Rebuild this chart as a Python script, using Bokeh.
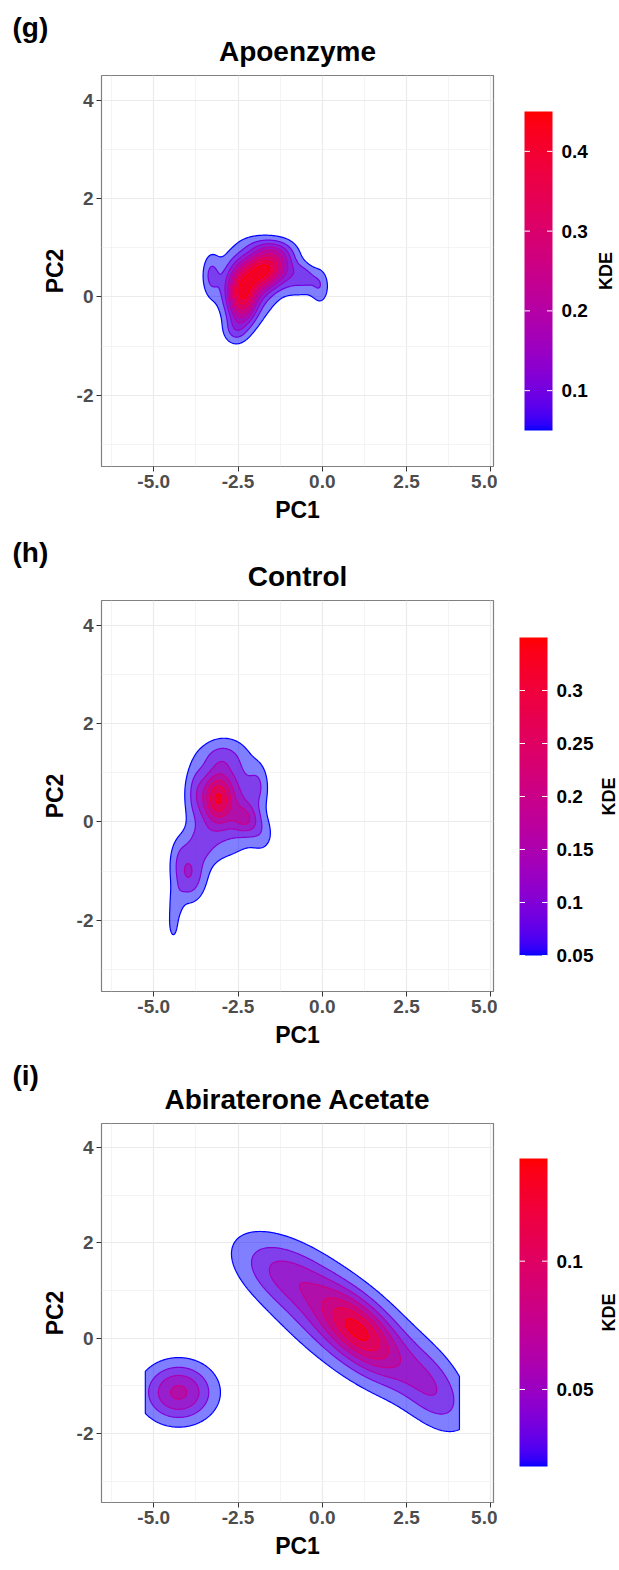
import numpy as np
from bokeh.plotting import figure
from bokeh.layouts import column, row
from bokeh.models import (LinearColorMapper, FixedTicker, Range1d, CustomJSTickFormatter)
from bokeh.core.properties import value
from bokeh.embed import file_html
from bokeh.resources import INLINE

FONT = "Liberation Sans"
FONT_VALUE = value(FONT)

# shared axes
PC1_MAJOR = [-5.0, -2.5, 0.0, 2.5, 5.0]
PC1_MINOR = [-6.25, -3.75, -1.25, 1.25, 3.75]
PC2_MAJOR = [-2, 0, 2, 4]
PC2_MINOR = [-3, -1, 1, 3]
PC1_LIMITS = (-6.55, 5.08)
PC2_LIMITS = (-3.45, 4.50)

# Apoenzyme: density modes (centre, major/minor spread, tilt in degrees, relative height)
APO_CX = [-1.70, -2.38, -2.20, -0.75, -0.05, -0.50, -2.60, -3.30, -1.60]
APO_CY = [0.57, -0.05, 0.30, 0.35, 0.20, 0.45, -0.70, 0.45, 1.00]
APO_SMAJ = [0.50, 0.28, 0.60, 0.50, 0.18, 0.25, 0.25, 0.18, 0.45]
APO_SMIN = [0.26, 0.36, 0.50, 0.25, 0.28, 0.15, 0.20, 0.30, 0.15]
APO_TILT = [18, 0, 10, -10, 0, -20, 0, 0, -5]
APO_AMP = [0.32, 0.26, 0.15, 0.08, 0.055, 0.045, 0.07, 0.08, 0.05]
APO_PEAK = 0.49
APO_LEVELS = [0.05, 0.10, 0.15, 0.20, 0.25, 0.30, 0.35, 0.40, 0.45]
APO_TICKS = [0.1, 0.2, 0.3, 0.4]
APO_XSPAN = (-6.55, 5.08)

# Control
CTL_CX = [-3.12, -2.25, -2.85, -1.90, -3.00, -3.75, -3.96, -3.60, -4.35, -4.42, -4.25, -1.75]
CTL_CY = [0.48, 0.05, 0.45, 0.75, 1.35, 0.60, -1.10, -0.45, -1.70, -2.10, -0.65, -0.30]
CTL_SMAJ = [0.28, 0.30, 0.65, 0.20, 0.45, 0.22, 0.35, 0.35, 0.15, 0.10, 0.22, 0.25]
CTL_SMIN = [0.33, 0.22, 0.70, 0.30, 0.22, 0.40, 0.38, 0.30, 0.25, 0.22, 0.30, 0.25]
CTL_TILT = [0, -15, 0, 0, 0, 0, 0, 0, 0, 0, 0, 0]
CTL_AMP = [0.17, 0.10, 0.15, 0.05, 0.045, 0.055, 0.12, 0.06, 0.05, 0.06, 0.035, 0.04]
CTL_PEAK = 0.36
CTL_LEVELS = [0.05, 0.10, 0.15, 0.20, 0.25, 0.30, 0.35]
CTL_TICKS = [0.05, 0.10, 0.15, 0.20, 0.25, 0.30]
CTL_XSPAN = (-6.55, 5.08)

# Abiraterone Acetate
ABI_CX = [1.10, 0.60, -1.20, 3.30, -4.26]
ABI_CY = [0.15, 0.35, 1.40, -1.10, -1.14]
ABI_SMAJ = [0.85, 2.00, 0.90, 0.80, 0.73]
ABI_SMIN = [0.38, 0.62, 0.40, 0.45, 0.43]
ABI_TILT = [-30, -27, -15, -35, 0]
ABI_AMP = [0.07, 0.065, 0.025, 0.035, 0.076]
ABI_PEAK = 0.148
ABI_LEVELS = [0.02, 0.04, 0.06, 0.08, 0.10, 0.12, 0.14]
ABI_TICKS = [0.05, 0.10]
ABI_XSPAN = (-5.25, 4.07)


# ---- blue -> red gradient interpolated in CIE Lab ----
_M = np.array([[0.4124564, 0.3575761, 0.1804375],
               [0.2126729, 0.7151522, 0.0721750],
               [0.0193339, 0.1191920, 0.9503041]])
_MINV = np.linalg.inv(_M)
_WHITE = np.array([0.95047, 1.0, 1.08883])
_D = 6 / 29


def _f(t):
    return np.where(t > _D ** 3, np.cbrt(t), t / (3 * _D ** 2) + 4 / 29)


def _finv(t):
    return np.where(t > _D, t ** 3, 3 * _D ** 2 * (t - 4 / 29))


def rgb_to_lab(rgb):
    c = np.asarray(rgb, float) / 255
    lin = np.where(c <= 0.04045, c / 12.92, ((c + 0.055) / 1.055) ** 2.4)
    fx, fy, fz = _f(_M @ lin / _WHITE)
    return np.array([116 * fy - 16, 500 * (fx - fy), 200 * (fy - fz)])


def lab_to_hex(lab):
    L, a, b = lab
    fy = (L + 16) / 116
    xyz = _finv(np.array([fy + a / 500, fy, fy - b / 200])) * _WHITE
    lin = np.clip(_MINV @ xyz, 0, None)
    c = np.where(lin <= 0.0031308, 12.92 * lin, 1.055 * lin ** (1 / 2.4) - 0.055)
    r, g, b = np.clip(np.round(c * 255), 0, 255).astype(int)
    return "#%02x%02x%02x" % (r, g, b)


LAB_LOW = rgb_to_lab([0, 0, 255])
LAB_HIGH = rgb_to_lab([255, 0, 0])


def gradient(t):
    return lab_to_hex(LAB_LOW + (LAB_HIGH - LAB_LOW) * t)


PALETTE = [gradient(t) for t in np.linspace(0, 1, 256)]


def density(xs, ys, cx, cy, smaj, smin, tilt, amp, peak):
    X, Y = np.meshgrid(xs, ys)
    Z = np.zeros_like(X)
    for x0, y0, s1, s2, t, a in zip(cx, cy, smaj, smin, tilt, amp):
        c, s = np.cos(np.radians(t)), np.sin(np.radians(t))
        dx, dy = X - x0, Y - y0
        u = (dx * c + dy * s) / s1
        v = (-dx * s + dy * c) / s2
        Z += a * np.exp(-0.5 * (u * u + v * v))
    return Z * (peak / Z.max())


def blank(width, height, y_range):
    f = figure(width=width, height=height, output_backend="svg", toolbar_location=None,
               title=None, x_range=Range1d(0, width), y_range=y_range,
               x_axis_location=None, y_axis_location=None, min_border=0)
    f.outline_line_color = None
    f.background_fill_color = "white"
    f.border_fill_color = "white"
    f.grid.visible = False
    return f


def bold_text(f, x, y, text, size, align, angle=0.0):
    f.text(x=[x], y=[y], text=[text], angle=angle, text_font=FONT_VALUE,
           text_font_style="bold", text_font_size=size, text_color="black",
           text_align=align, text_baseline="middle")


def panel(tag, title, comps, levels, ticks, xspan, head_h, frame_h, bottom,
          bar_top, bar_bot, bar_x, kde_x):
    FW = 392
    main_h = 5 + frame_h + bottom

    # heading strip: panel tag and title (y counted up from the strip's bottom edge)
    head = blank(619, head_h, Range1d(0, head_h))
    bold_text(head, 12, 43, tag, "28px", "left")
    bold_text(head, 101 + FW / 2, 19, title, "28px", "center")

    # density panel
    p = figure(width=101 + FW + 4, height=main_h, output_backend="svg",
               toolbar_location=None,
               x_range=Range1d(*PC1_LIMITS), y_range=Range1d(*PC2_LIMITS),
               min_border_left=101, min_border_right=4,
               min_border_top=5, min_border_bottom=bottom)
    p.background_fill_color = "white"
    p.border_fill_color = "white"
    p.outline_line_color = "#808080"
    p.outline_line_width = 1.2

    p.xaxis.ticker = FixedTicker(ticks=PC1_MAJOR, minor_ticks=PC1_MINOR)
    p.yaxis.ticker = FixedTicker(ticks=PC2_MAJOR, minor_ticks=PC2_MINOR)
    p.xaxis.formatter = CustomJSTickFormatter(code="return tick.toFixed(1)")
    p.yaxis.formatter = CustomJSTickFormatter(code="return tick.toFixed(0)")
    p.xaxis.axis_label = "PC1"
    p.yaxis.axis_label = "PC2"
    for ax in (p.xaxis, p.yaxis):
        ax.axis_line_color = None
        ax.major_tick_line_color = "#333333"
        ax.major_tick_out = 5
        ax.major_tick_in = 0
        ax.minor_tick_line_color = None
        ax.major_label_text_font = FONT
        ax.major_label_text_font_style = "bold"
        ax.major_label_text_font_size = "19px"
        ax.major_label_text_color = "#4D4D4D"
        ax.major_label_standoff = 3
        ax.axis_label_text_font = FONT
        ax.axis_label_text_font_style = "bold"
        ax.axis_label_text_font_size = "23px"
        ax.axis_label_text_color = "black"
        ax.axis_label_standoff = 6
    for g in (p.xgrid, p.ygrid):
        g.grid_line_color = "#EBEBEB"
        g.grid_line_width = 1.2
        g.minor_grid_line_color = "#EFEFEF"
        g.minor_grid_line_width = 0.7

    xs = np.linspace(xspan[0], xspan[1], 360)
    ys = np.linspace(PC2_LIMITS[0], PC2_LIMITS[1], 300)
    Z = density(xs, ys, *comps)
    lo, hi = levels[0], levels[-1]
    top_z = max(float(Z.max()), hi) + 1.0
    for lev in levels:
        if Z.max() <= lev:
            continue
        col = gradient((lev - lo) / (hi - lo))
        r = p.contour(xs, ys, Z, levels=[lev, top_z], fill_color=col, fill_alpha=0.5,
                      line_color=None)
        g = r.fill_renderer.glyph
        g.line_color = col
        g.line_width = 1.2
        g.line_alpha = 1.0

    # legend strip: its frame lines up with the density frame (top 5, height frame_h);
    # the y scale is KDE, placed so the bar spans bar_top..bar_bot (px from strip top)
    side_w = 619 - (101 + FW + 4)
    per_px = (hi - lo) / (bar_bot - bar_top)
    side = blank(side_w, main_h,
                 Range1d(lo - (5 + frame_h - bar_bot) * per_px,
                         hi + (bar_top - 5) * per_px))
    mapper = LinearColorMapper(palette=PALETTE, low=lo, high=hi)
    strip = np.linspace(lo, hi, 256).reshape(-1, 1)
    side.image(image=[strip], x=bar_x, y=lo, dw=28, dh=hi - lo, color_mapper=mapper)
    n = len(ticks)
    side.segment(x0=[bar_x] * n, x1=[bar_x + 5.5] * n, y0=ticks, y1=ticks,
                 line_color="white", line_width=1)
    side.segment(x0=[bar_x + 22.5] * n, x1=[bar_x + 28] * n, y0=ticks, y1=ticks,
                 line_color="white", line_width=1)
    side.text(x=[bar_x + 37] * n, y=ticks, text=[f"{t:g}" for t in ticks],
              text_font=FONT_VALUE, text_font_style="bold", text_font_size="19px",
              text_color="black", text_align="left", text_baseline="middle")
    bold_text(side, kde_x, (lo + hi) / 2, "KDE", "18px", "center", angle=np.pi / 2)
    return column(head, row(p, side, spacing=0), spacing=0)


p1 = panel("(g)", "Apoenzyme",
           (APO_CX, APO_CY, APO_SMAJ, APO_SMIN, APO_TILT, APO_AMP, APO_PEAK),
           APO_LEVELS, APO_TICKS, APO_XSPAN, 70, 391, 59, 41, 360, 27, 108)
p2 = panel("(h)", "Control",
           (CTL_CX, CTL_CY, CTL_SMAJ, CTL_SMIN, CTL_TILT, CTL_AMP, CTL_PEAK),
           CTL_LEVELS, CTL_TICKS, CTL_XSPAN, 70, 391, 59, 42, 360, 22, 111)
p3 = panel("(i)", "Abiraterone Acetate",
           (ABI_CX, ABI_CY, ABI_SMAJ, ABI_SMIN, ABI_TILT, ABI_AMP, ABI_PEAK),
           ABI_LEVELS, ABI_TICKS, ABI_XSPAN, 68, 379, 68, 40, 348, 22, 111)

page = column(p1, p2, p3, spacing=0)
open("out.html", "w").write(file_html(page, INLINE))
